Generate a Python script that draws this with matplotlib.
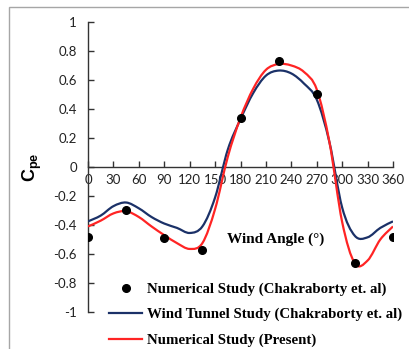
import numpy as np
import matplotlib.pyplot as plt
from matplotlib.path import Path
from matplotlib.patches import PathPatch, Rectangle
from matplotlib.lines import Line2D

# wind angle (deg) and external pressure coefficient
angle_pts = [0, 45, 90, 135, 180, 225, 270, 315, 360]
cpe_chakraborty_num = [-0.485, -0.297, -0.49, -0.575, 0.336, 0.729, 0.501, -0.66, -0.485]

angle_curve = [0, 15, 30, 45, 60, 75, 90, 105, 120, 135, 150, 165, 180,
               195, 210, 225, 240, 255, 270, 285, 300, 315, 330, 345, 360]
cpe_wind_tunnel = [-0.375, -0.335, -0.27, -0.245, -0.285, -0.345, -0.39, -0.42, -0.455,
                   -0.41, -0.21, 0.12, 0.33, 0.51, 0.63, 0.665, 0.645, 0.575, 0.465,
                   0.17, -0.28, -0.475, -0.485, -0.42, -0.375]
cpe_present = [-0.41, -0.37, -0.32, -0.305, -0.345, -0.41, -0.47, -0.525, -0.565,
               -0.525, -0.29, 0.07, 0.34, 0.54, 0.67, 0.71, 0.70, 0.655, 0.535,
               0.17, -0.38, -0.665, -0.645, -0.50, -0.41]


def smooth_path(x, y):
    # cubic bezier through every point, excel-style smoothing
    p = np.column_stack([x, y]).astype(float)
    n = len(p)
    verts = [p[0]]
    codes = [Path.MOVETO]
    for i in range(n - 1):
        p0 = p[i - 1] if i > 0 else p[i]
        p3 = p[i + 2] if i + 2 < n else p[i + 1]
        c1 = p[i] + (p[i + 1] - p0) / 6
        c2 = p[i + 1] - (p3 - p[i]) / 6
        verts += [c1, c2, p[i + 1]]
        codes += [Path.CURVE4] * 3
    return Path(verts, codes)


plt.rcParams['mathtext.fontset'] = 'custom'
plt.rcParams['mathtext.bf'] = 'Liberation Sans:bold'

fig = plt.figure(figsize=(4.09, 3.49), dpi=100)
ax = fig.add_axes([0.2152, 0.106, 0.7457, 0.831])

# outer chart frame
fig.patches.append(Rectangle((9 / 409, -0.2), 1.2, (349 - 6.7) / 349 + 0.2,
                             transform=fig.transFigure, fill=False,
                             edgecolor='#a6a6a6', linewidth=1.0))

blue = '#1b3168'
red = '#ff2424'
ax.add_patch(PathPatch(smooth_path(angle_curve, cpe_wind_tunnel), fill=False,
                       edgecolor=blue, linewidth=1.6, zorder=3))
ax.add_patch(PathPatch(smooth_path(angle_curve, cpe_present), fill=False,
                       edgecolor=red, linewidth=1.6, zorder=4))
ax.plot(angle_pts, cpe_chakraborty_num, 'o', color='black', markersize=5.5, zorder=5)

ax.set_xlim(0, 360)
ax.set_ylim(-1, 1)
ax.set_xticks(np.arange(0, 361, 30))
ax.set_yticks(np.arange(-1, 1.01, 0.2))
ax.set_yticklabels(['-1', '-0.8', '-0.6', '-0.4', '-0.2', '0', '0.2', '0.4', '0.6', '0.8', '1'])

ax.spines['top'].set_visible(False)
ax.spines['right'].set_visible(False)
ax.spines['bottom'].set_position(('data', 0))
for s in ['left', 'bottom']:
    ax.spines[s].set_color('#333333')
    ax.spines[s].set_linewidth(1.0)
ax.tick_params(direction='in', length=4, width=1.0, color='#333333',
               labelsize=9.5, labelcolor='#222222')
ax.tick_params(axis='y', pad=8)
ax.tick_params(axis='x', pad=5)
for lab in ax.get_xticklabels() + ax.get_yticklabels():
    lab.set_family('Lato')

ax.set_ylabel(r'$\mathbf{C_{pe}}$', fontsize=13, labelpad=7)
ax.text(221, -0.5, 'Wind Angle (°)', fontsize=11, fontweight='bold',
        family='Liberation Serif', ha='center', va='center')

handles = [Line2D([], [], marker='o', linestyle='none', color='black', markersize=5.5),
           Line2D([], [], color=blue, linewidth=1.6),
           Line2D([], [], color=red, linewidth=1.6)]
labels = ['Numerical Study (Chakraborty et. al)',
          'Wind Tunnel Study (Chakraborty et. al)',
          'Numerical Study (Present)']
fig.legend(handles, labels, loc='upper left', bbox_to_anchor=(102 / 409, 1 - 275 / 349),
           frameon=False, prop={'family': 'Liberation Serif', 'weight': 'bold', 'size': 10.7},
           handlelength=2.2, handletextpad=0.3, labelspacing=0.8, borderpad=0)

fig.savefig('out.png', dpi=100)
